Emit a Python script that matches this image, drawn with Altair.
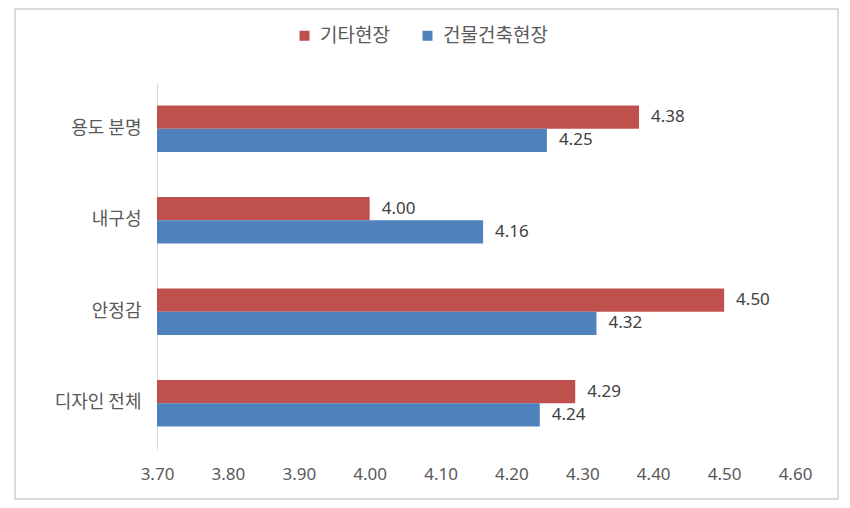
import altair as alt
import pandas as pd

categories = ["용도 분명", "내구성", "안정감", "디자인 전체"]
series = ["기타현장", "건물건축현장"]
other_site = [4.38, 4.00, 4.50, 4.29]
building_site = [4.25, 4.16, 4.32, 4.24]
x_ticks = [3.70, 3.80, 3.90, 4.00, 4.10, 4.20, 4.30, 4.40, 4.50, 4.60]
colors = ["#C0504D", "#4F81BD"]

rows = []
for c, a, b in zip(categories, other_site, building_site):
    rows.append({"category": c, "series": series[0], "value": a, "base": 3.70})
    rows.append({"category": c, "series": series[1], "value": b, "base": 3.70})
df = pd.DataFrame(rows)

FONT = "Noto Sans CJK KR"

y_enc = alt.Y("category:N", sort=categories, title=None,
              scale=alt.Scale(paddingInner=0.49, paddingOuter=0.245),
              axis=alt.Axis(domain=True, domainColor="#d9d9d9", ticks=False, grid=False,
                            labelFontSize=18, labelColor="#595959", labelPadding=16,
                            labelFont=FONT))
yoff = alt.YOffset("series:N", sort=series, scale=alt.Scale(paddingInner=0, paddingOuter=0))

bars = alt.Chart(df).mark_bar().encode(
    x=alt.X("value:Q", title=None,
            scale=alt.Scale(domain=[3.70, 4.60], nice=False, zero=False),
            axis=alt.Axis(values=x_ticks, format=".2f", domain=False, ticks=False, grid=False,
                          labelFlush=False, labelOverlap=False,
                          labelFontSize=17, labelColor="#595959", labelPadding=17,
                          labelFont="Noto Sans")),
    x2="base:Q",
    y=y_enc,
    yOffset=yoff,
    color=alt.Color("series:N", sort=series,
                    scale=alt.Scale(domain=series, range=colors),
                    legend=alt.Legend(title=None, orient="none", direction="horizontal",
                                      legendX=138, legendY=-57, symbolType="square",
                                      symbolSize=100, symbolStrokeWidth=0, labelFontSize=19,
                                      labelColor="#595959", labelFont=FONT,
                                      columnPadding=28, labelOffset=6)),
)

labels = alt.Chart(df).mark_text(align="left", baseline="middle", dx=12,
                                 fontSize=17, color="#404040", font="Noto Sans").encode(
    x="value:Q",
    y=alt.Y("category:N", sort=categories),
    yOffset=yoff,
    text=alt.Text("value:Q", format=".2f"),
)

frame = alt.Chart(pd.DataFrame({"a": [0]})).mark_rect(
    fill="transparent", stroke="#d0d0d0", strokeWidth=1.5).encode(
    x=alt.value(-142), x2=alt.value(681), y=alt.value(-74), y2=alt.value(416))

chart = alt.layer(frame, bars, labels).properties(
    width=638, height=366,
    autosize=alt.AutoSizeParams(type="none"),
    padding={"left": 149, "top": 75, "right": 47, "bottom": 51},
).configure(background="white", view=alt.ViewConfig(strokeWidth=0))

chart.save("out.html", embed_options={"renderer": "svg", "actions": False})
